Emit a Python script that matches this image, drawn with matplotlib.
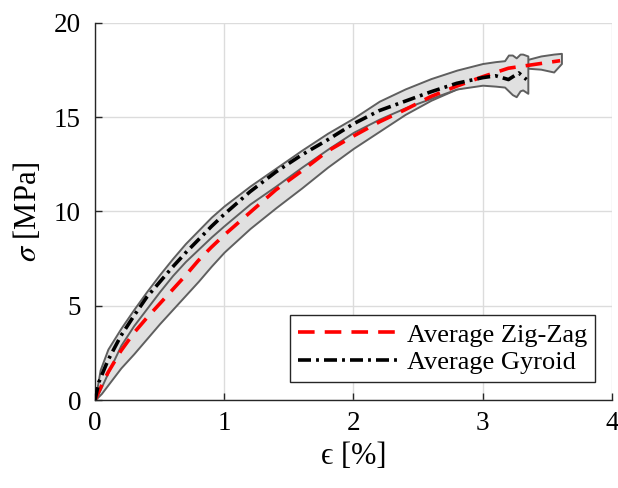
import matplotlib
matplotlib.use("Agg")
import matplotlib.pyplot as plt
import numpy as np

# ---- data ----
zz_x = [0, 0.05, 0.1, 0.2, 0.3, 0.4, 0.5, 0.6, 0.7, 0.8, 0.9, 1.0, 1.2, 1.4, 1.6, 1.8,
        2.0, 2.2, 2.4, 2.6, 2.8, 3.0, 3.2, 3.4, 3.6]
zz_y = [0, 0.75, 1.45, 2.6, 3.55, 4.35, 5.1, 5.85, 6.6, 7.4, 8.1, 8.75, 9.95, 11.15, 12.15, 13.2,
        14.0, 14.75, 15.4, 16.1, 16.65, 17.15, 17.6, 17.8, 18.0]

gy_x = [0, 0.03, 0.1, 0.2, 0.3, 0.4, 0.5, 0.6, 0.7, 0.8, 0.9, 1.0, 1.2, 1.4, 1.6, 1.8,
        2.0, 2.2, 2.4, 2.6, 2.8, 3.0, 3.1, 3.2, 3.28, 3.34]
gy_y = [0, 0.95, 2.1, 3.4, 4.45, 5.45, 6.25, 7.05, 7.8, 8.5, 9.2, 9.85, 11.05, 12.1, 13.0, 13.8,
        14.65, 15.35, 15.85, 16.35, 16.8, 17.1, 17.2, 17.0, 17.35, 17.0]

# gyroid band
gyb_x = [0, 0.04, 0.1, 0.2, 0.3, 0.4, 0.5, 0.6, 0.7, 0.8, 0.9, 1.0, 1.2, 1.4, 1.6, 1.8,
         2.0, 2.2, 2.4, 2.6, 2.8, 3.0, 3.1, 3.17, 3.2, 3.23, 3.26, 3.29, 3.31, 3.35]
gyb_hi = [0, 1.6, 2.7, 3.8, 4.8, 5.75, 6.65, 7.5, 8.3, 9.0, 9.7, 10.3, 11.35, 12.3, 13.25, 14.15,
          14.95, 15.85, 16.5, 17.05, 17.5, 17.85, 17.95, 18.0, 18.3, 18.3, 18.15, 18.35, 18.35, 18.25]
gyb_lo = [0, 0.55, 1.45, 2.9, 3.95, 4.85, 5.75, 6.6, 7.35, 8.0, 8.65, 9.25, 10.4, 11.35, 12.35, 13.3,
          14.2, 14.9, 15.5, 16.0, 16.5, 16.7, 16.65, 16.6, 16.4, 16.2, 16.09, 16.4, 16.45, 16.27]

# zig-zag band
zzb_x = [0, 0.05, 0.1, 0.2, 0.3, 0.4, 0.5, 0.6, 0.7, 0.8, 0.9, 1.0, 1.2, 1.4, 1.6, 1.8,
         2.0, 2.2, 2.4, 2.6, 2.8, 3.0, 3.2, 3.35, 3.45, 3.55, 3.61]
zzb_hi = [0, 1.2, 2.3, 3.5, 4.5, 5.4, 6.3, 7.2, 8.0, 8.7, 9.4, 10.0, 11.1, 12.0, 12.95, 13.9,
          14.7, 15.5, 16.2, 16.8, 17.3, 17.7, 17.9, 18.07, 18.25, 18.35, 18.39]
zzb_lo = [0, 0.35, 0.8, 1.7, 2.45, 3.25, 4.05, 4.8, 5.55, 6.3, 7.1, 7.85, 9.1, 10.2, 11.25, 12.35,
          13.35, 14.25, 15.15, 15.9, 16.5, 16.85, 17.1, 17.6, 17.55, 17.4, 17.85]

x_ticks = [0, 1, 2, 3, 4]
y_ticks = [0, 5, 10, 15, 20]

plt.rcParams['font.family'] = ['Liberation Serif', 'DejaVu Serif']
plt.rcParams['mathtext.fontset'] = 'stix'

fig = plt.figure(figsize=(6.18, 4.88), dpi=100)
ax = fig.add_axes([0.1537, 0.1803, 0.8363, 0.7726])

fill_c = '#e0e0e0'
edge_c = '#5f5f5f'
ax.fill_between(zzb_x, zzb_lo, zzb_hi, facecolor=fill_c, edgecolor=edge_c, linewidth=1.4, zorder=2)
ax.fill_between(gyb_x, gyb_lo, gyb_hi, facecolor=fill_c, edgecolor=edge_c, linewidth=1.4, zorder=2)

ax.plot(zz_x, zz_y, color='#ff0000', linewidth=2.6, dashes=(4.6, 2.8), zorder=4,
        label='Average Zig-Zag')
ax.plot(gy_x, gy_y, color='black', linewidth=2.6, dashes=(3.6, 1.4, 0.8, 1.4), zorder=5,
        label='Average Gyroid')

ax.set_xlim(0, 4)
ax.set_ylim(0, 20)
ax.set_xticks(x_ticks)
ax.set_yticks(y_ticks)
ax.grid(True, color='#dcdcdc', linewidth=1.0, zorder=0)
ax.set_axisbelow(True)
for s in ['top', 'right']:
    ax.spines[s].set_visible(False)
for s in ['left', 'bottom']:
    ax.spines[s].set_linewidth(1.0)
    ax.spines[s].set_color('#262626')
ax.tick_params(direction='in', length=5, width=1.0, labelsize=19.5, colors='#262626',
               labelcolor='black')
ax.tick_params(axis='y', pad=10)
ax.tick_params(axis='x', pad=8)

ax.set_xlabel('\u03f5 [%]', fontsize=22, labelpad=4)
ax.set_ylabel(r'$\sigma$ [MPa]', fontsize=22, labelpad=8)

leg = ax.legend(loc='lower right', bbox_to_anchor=(0.967, 0.048), borderaxespad=0,
                fontsize=19, handlelength=3.8, fancybox=False, edgecolor='#262626',
                framealpha=1, borderpad=0.3, labelspacing=0.15, handletextpad=0.3)
leg.get_frame().set_linewidth(1.0)

fig.savefig('out.png', dpi=100)
